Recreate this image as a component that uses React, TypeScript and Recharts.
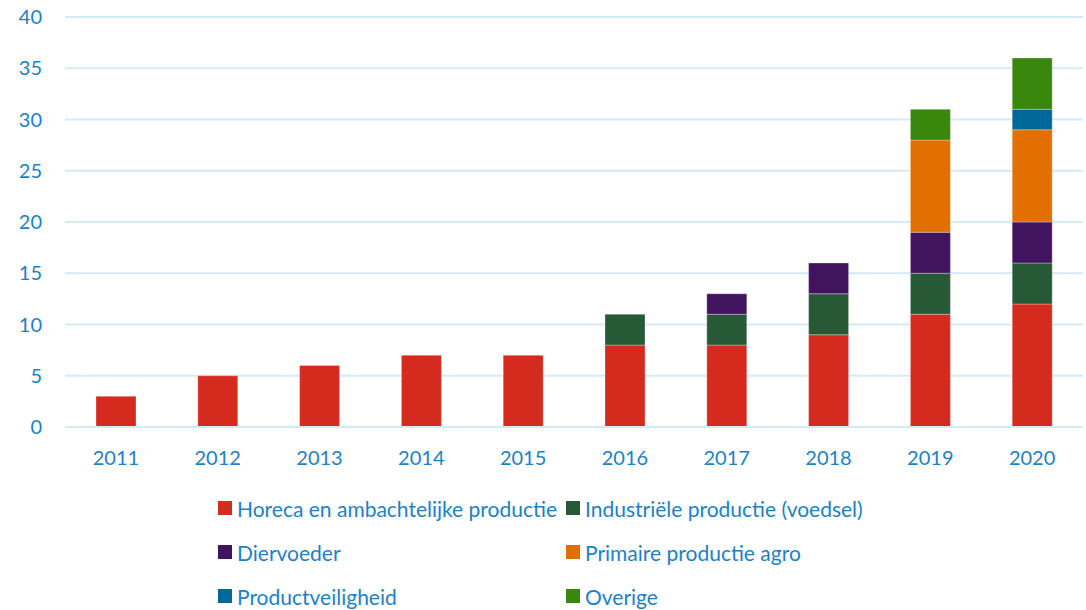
import { BarChart, Bar, XAxis, YAxis, CartesianGrid, Legend } from 'recharts';

const years = ['2011', '2012', '2013', '2014', '2015', '2016', '2017', '2018', '2019', '2020'];
const horeca = [3, 5, 6, 7, 7, 8, 8, 9, 11, 12];
const industrie = [0, 0, 0, 0, 0, 3, 3, 4, 4, 4];
const diervoeder = [0, 0, 0, 0, 0, 0, 2, 3, 4, 4];
const primaire = [0, 0, 0, 0, 0, 0, 0, 0, 9, 9];
const productveiligheid = [0, 0, 0, 0, 0, 0, 0, 0, 0, 2];
const overige = [0, 0, 0, 0, 0, 0, 0, 0, 3, 5];
const yTicks = [0, 5, 10, 15, 20, 25, 30, 35, 40];

const TEXT = '#1a82c9';
const GRID = '#d3eaf9';
const FONT = 'Lato, "Noto Sans", sans-serif';

const series = [
  { key: 'horeca', name: 'Horeca en ambachtelijke productie', color: '#d52b1e' },
  { key: 'industrie', name: 'Industriële productie (voedsel)', color: '#275937' },
  { key: 'diervoeder', name: 'Diervoeder', color: '#42145f' },
  { key: 'primaire', name: 'Primaire productie agro', color: '#e17000' },
  { key: 'productveiligheid', name: 'Productveiligheid', color: '#01689b' },
  { key: 'overige', name: 'Overige', color: '#39870c' },
];

const data = years.map((year, i) => ({
  year,
  horeca: horeca[i],
  industrie: industrie[i],
  diervoeder: diervoeder[i],
  primaire: primaire[i],
  productveiligheid: productveiligheid[i],
  overige: overige[i],
}));

function LegendBox() {
  return (
    <div
      style={{
        height: 143,
        paddingTop: 19,
        paddingLeft: 218,
        boxSizing: 'border-box',
        display: 'grid',
        gridTemplateColumns: '348px 348px',
        gridAutoRows: '44px',
        fontFamily: FONT,
        fontSize: 21,
        color: TEXT,
      }}
    >
      {series.map((s) => (
        <div key={s.key} style={{ display: 'flex', alignItems: 'center', height: 44 }}>
          <span
            style={{
              width: 14,
              height: 14,
              background: s.color,
              display: 'inline-block',
              marginRight: 5,
              flexShrink: 0,
            }}
          />
          <span style={{ whiteSpace: 'nowrap' }}>{s.name}</span>
        </div>
      ))}
    </div>
  );
}

export default function App() {
  return (
    <div style={{ position: 'absolute', left: 0, top: 0, width: 1086, height: 610 }}>
      <BarChart
        width={1086}
        height={610}
        data={data}
        margin={{ top: 17, right: 3, bottom: 0, left: 0 }}
        barSize={40}
      >
        <CartesianGrid vertical={false} stroke={GRID} strokeWidth={2} />
        <XAxis
          dataKey="year"
          height={40}
          axisLine={{ stroke: GRID, strokeWidth: 2 }}
          tickLine={false}
          tickSize={0}
          tickMargin={24}
          tick={{ fill: TEXT, fontSize: 20, fontFamily: FONT }}
        />
        <YAxis
          width={65}
          domain={[0, 40]}
          ticks={yTicks}
          axisLine={false}
          tickLine={false}
          tickSize={0}
          tickMargin={23}
          tick={{ fill: TEXT, fontSize: 20, fontFamily: FONT }}
        />
        <Legend verticalAlign="bottom" content={() => <LegendBox />} />
        {series.map((s) => (
          <Bar
            key={s.key}
            dataKey={s.key}
            name={s.name}
            stackId="a"
            fill={s.color}
            stroke="#ffffff"
            strokeOpacity={0.3}
            strokeWidth={1}
            isAnimationActive={false}
          />
        ))}
      </BarChart>
    </div>
  );
}
